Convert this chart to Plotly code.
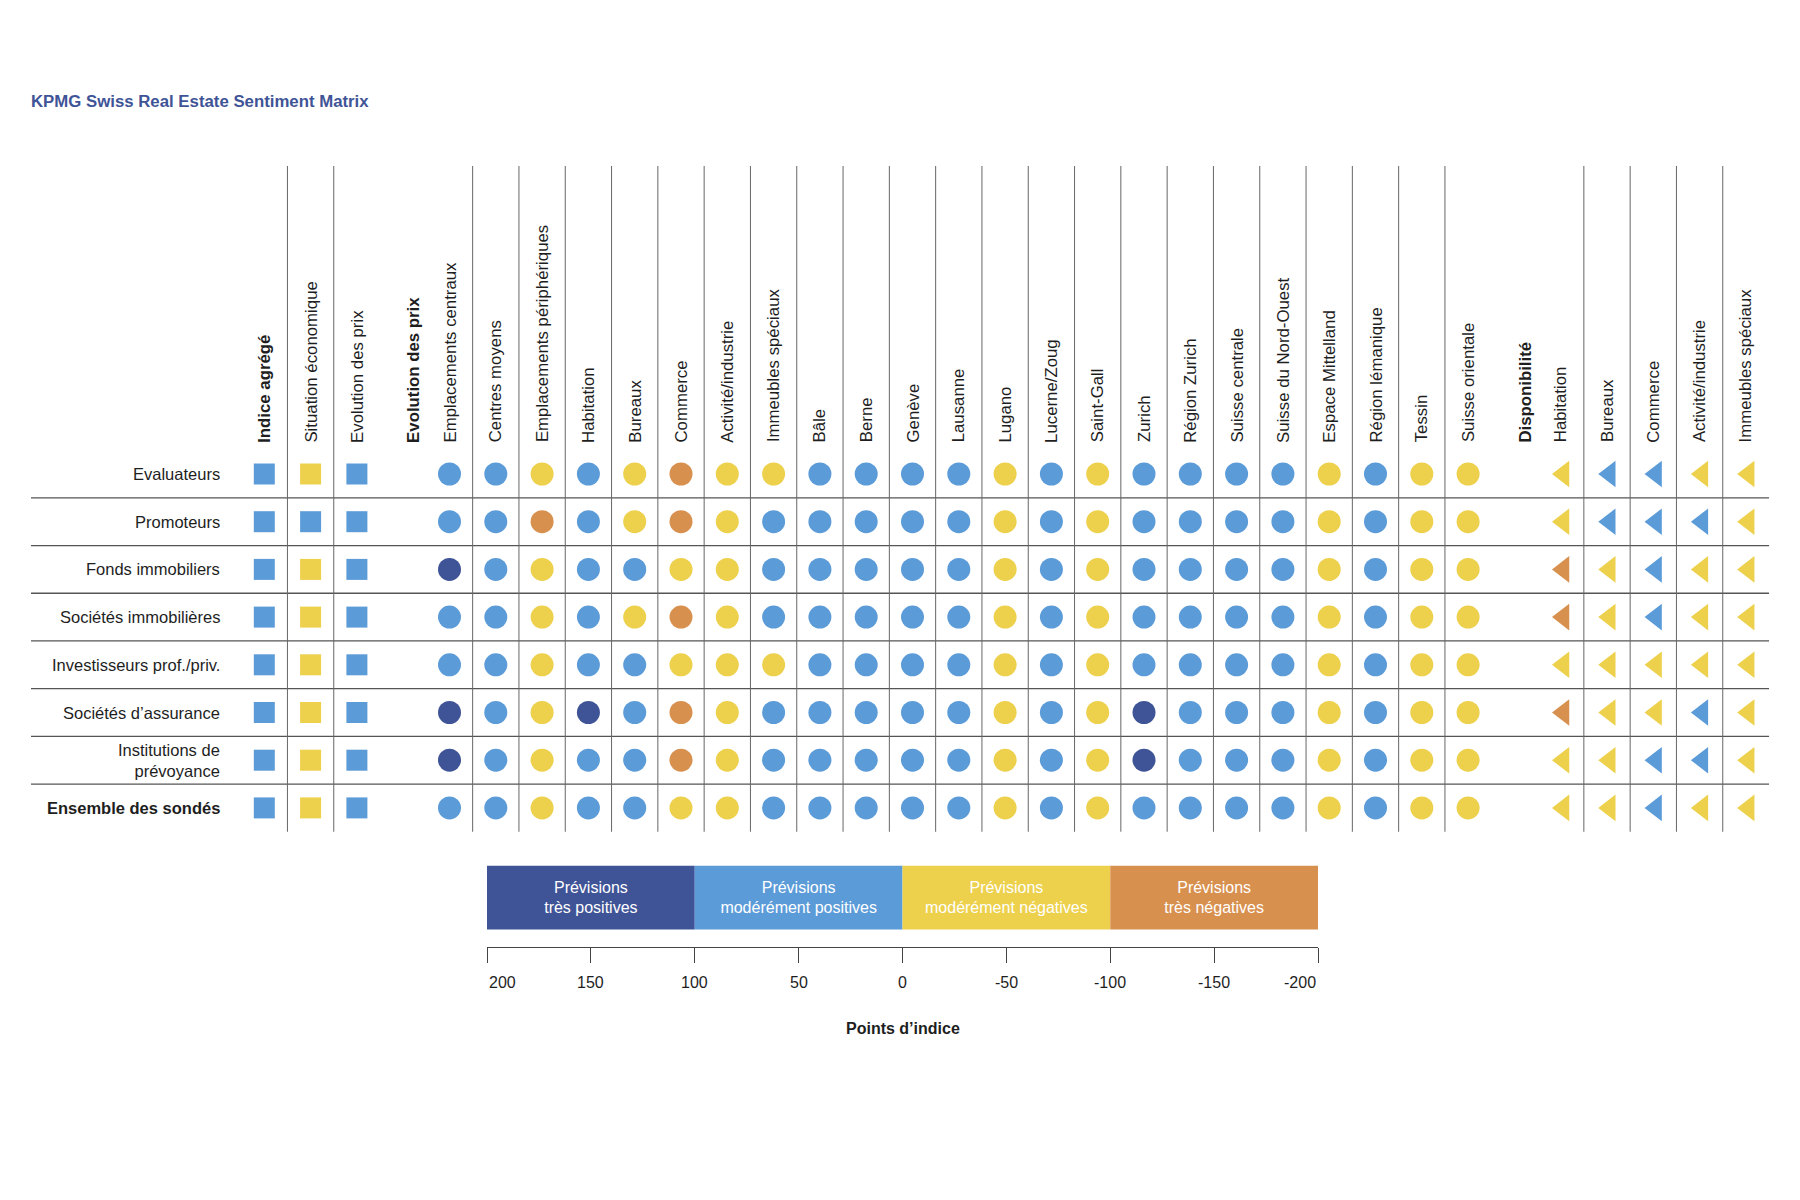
import plotly.graph_objects as go

# ---------------- data ----------------
TITLE = "KPMG Swiss Real Estate Sentiment Matrix"

respondents = [
    "Evaluateurs",
    "Promoteurs",
    "Fonds immobiliers",
    "Sociétés immobilières",
    "Investisseurs prof./priv.",
    "Sociétés d’assurance",
    "Institutions de<br>prévoyance",
    "<b>Ensemble des sondés</b>",
]

index_headers = ["<b>Indice agrégé</b>", "Situation économique", "Evolution des prix"]
price_group = "Evolution des prix"
price_headers = [
    "Emplacements centraux", "Centres moyens", "Emplacements périphériques",
    "Habitation", "Bureaux", "Commerce", "Activité/industrie", "Immeubles spéciaux",
    "Bâle", "Berne", "Genève", "Lausanne", "Lugano", "Lucerne/Zoug", "Saint-Gall",
    "Zurich", "Région Zurich", "Suisse centrale", "Suisse du Nord-Ouest",
    "Espace Mittelland", "Région lémanique", "Tessin", "Suisse orientale",
]
avail_group = "Disponibilité"
avail_headers = ["Habitation", "Bureaux", "Commerce", "Activité/industrie", "Immeubles spéciaux"]

# rating codes: P = très positives, p = modérément positives,
#               n = modérément négatives, N = très négatives
index_ratings = ["pnp", "ppp", "pnp", "pnp", "pnp", "pnp", "pnp", "pnp"]
price_ratings = [
    "ppnpnNnn" + "ppppnpnppppnpnn",
    "ppNpnNnp" + "ppppnpnppppnpnn",
    "Ppnppnnp" + "ppppnpnppppnpnn",
    "ppnpnNnp" + "ppppnpnppppnpnn",
    "ppnppnnn" + "ppppnpnppppnpnn",
    "PpnPpNnp" + "ppppnpnPpppnpnn",
    "PpnppNnp" + "ppppnpnPpppnpnn",
    "ppnppnnp" + "ppppnpnppppnpnn",
]
avail_ratings = ["nppnn", "npppn", "Nnpnn", "Nnpnn", "nnnnn", "Nnnpn", "nnppn", "nnpnn"]

rating_colors = {"P": "#3f5497", "p": "#5b9bd8", "n": "#edd04b", "N": "#d8904f"}

legend_labels = [
    "Prévisions<br>très positives",
    "Prévisions<br>modérément positives",
    "Prévisions<br>modérément négatives",
    "Prévisions<br>très négatives",
]
legend_codes = ["P", "p", "n", "N"]
legend_bounds = [200, 100, 0, -100, -200]
legend_ticks = [200, 150, 100, 50, 0, -50, -100, -150, -200]
legend_axis_title = "Points d’indice"

# ---------------- layout geometry (pixels) ----------------
W, H = 1800, 1200
X0, DX = 256.3, 46.3      # slot 0 centre and slot spacing
Y0, DY = 466.0, 47.7      # row 0 centre and row spacing
FONT = "Liberation Sans, Arial, Helvetica, sans-serif"
TXT = "#1e1e1e"


def sx(p):
    return (p - X0) / DX


def ry(p):
    return (p - Y0) / DY


index_slots = list(range(0, len(index_headers)))
price_group_slot = len(index_headers)
price_slots = [price_group_slot + 1 + i for i in range(len(price_headers))]
avail_group_slot = price_slots[-1] + 1
avail_slots = [avail_group_slot + 1 + i for i in range(len(avail_headers))]
last_slot = avail_slots[-1]

fig = go.Figure()


def add_group(slots, ratings, symbol, size, dx=0.0):
    xs, ys, cs = [], [], []
    for r, row in enumerate(ratings):
        for k, code in enumerate(row):
            xs.append(slots[k] + dx)
            ys.append(r)
            cs.append(rating_colors[code])
    fig.add_trace(go.Scatter(
        x=xs, y=ys, mode="markers",
        marker=dict(symbol=symbol, size=size, color=cs, line=dict(width=0)),
        hoverinfo="skip", showlegend=False, xaxis="x", yaxis="y",
    ))


add_group(index_slots, index_ratings, "square", 21)
add_group(price_slots, price_ratings, "circle", 23)
add_group(avail_slots, avail_ratings, "triangle-left", 23, dx=0.06)

# legend colour bar (horizontal bars on secondary axes)
bar_top_px, bar_bottom_px, axis_px = 857.5, 921.5, 938.5
dom_h = axis_px - bar_top_px
yb = (axis_px - bar_bottom_px) / dom_h
fig.add_trace(go.Bar(
    orientation="h",
    y=[(yb + 1) / 2] * len(legend_labels),
    x=[legend_bounds[i] - legend_bounds[i + 1] for i in range(len(legend_labels))],
    base=legend_bounds[1:],
    width=1 - yb,
    marker=dict(color=[rating_colors[c] for c in legend_codes], line=dict(width=0)),
    text=legend_labels,
    textposition="inside",
    insidetextanchor="middle",
    textangle=0,
    constraintext="none",
    textfont=dict(color="white", size=16, family=FONT),
    hoverinfo="skip", showlegend=False, xaxis="x2", yaxis="y2",
))

shapes = []
# horizontal separators between rows
for j in range(len(respondents) - 1):
    shapes.append(dict(type="line", xref="x", yref="y",
                       x0=sx(23), x1=last_slot + 0.5, y0=j + 0.5, y1=j + 0.5,
                       line=dict(color="#555555", width=1.3)))
# vertical separators
vlines = [index_slots[0] + 0.5, index_slots[1] + 0.5]
vlines += [s + 0.5 for s in price_slots[:-1]]
vlines += [s + 0.5 for s in avail_slots[:-1]]
for v in vlines:
    shapes.append(dict(type="line", xref="x", yref="y",
                       x0=v, x1=v, y0=ry(158), y1=len(respondents) - 0.5,
                       line=dict(color="#666666", width=1)))

annotations = []
# title
annotations.append(dict(xref="paper", yref="paper", x=21 / W, y=1 - 93 / H,
                        xanchor="left", yanchor="middle", showarrow=False,
                        text="<b>" + TITLE + "</b>",
                        font=dict(size=16.8, color="#3f5497", family=FONT)))
# column headers
head_y = ry(436.5)
hdr = []
for s, t in zip(index_slots, index_headers):
    hdr.append(dict(x=s, y=head_y, text=t))
hdr.append(dict(x=price_group_slot + 0.22, y=head_y, text="<b>" + price_group + "</b>"))
for s, t in zip(price_slots, price_headers):
    hdr.append(dict(x=s, y=head_y, text=t))
hdr.append(dict(x=avail_group_slot + 0.22, y=head_y, text="<b>" + avail_group + "</b>"))
for s, t in zip(avail_slots, avail_headers):
    hdr.append(dict(x=s, y=head_y, text=t))
for a in hdr:
    a.update(xref="x", yref="y", xanchor="center", yanchor="bottom", textangle=-90,
             showarrow=False, font=dict(size=16.8, color=TXT, family=FONT))
annotations += hdr
# row labels
for j, name in enumerate(respondents):
    annotations.append(dict(xref="x", yref="y", x=sx(214), y=j, text=name,
                            xanchor="right", yanchor="middle", align="right",
                            showarrow=False,
                            font=dict(size=16.5, color=TXT, family=FONT)))
# legend tick labels
for k, t in enumerate(legend_ticks):
    anchor = "left" if k == 0 else ("right" if k == len(legend_ticks) - 1 else "center")
    annotations.append(dict(xref="x2", yref="paper", x=t, y=1 - 974.5 / H,
                            text=str(t), xanchor=anchor, yanchor="middle",
                            showarrow=False, font=dict(size=16, color=TXT, family=FONT)))
annotations.append(dict(xref="x2", yref="paper", x=0, y=1 - 1020.5 / H,
                        text="<b>" + legend_axis_title + "</b>", xanchor="center",
                        yanchor="middle", showarrow=False,
                        font=dict(size=16, color=TXT, family=FONT)))

fig.update_layout(
    width=W, height=H, autosize=False,
    margin=dict(l=0, r=0, t=0, b=0),
    paper_bgcolor="white", plot_bgcolor="rgba(0,0,0,0)",
    showlegend=False, hovermode=False,
    font=dict(family=FONT, color=TXT),
    xaxis=dict(domain=[0, 1], range=[sx(0), sx(W)], visible=False, fixedrange=True),
    yaxis=dict(domain=[0, 1], range=[ry(H), ry(0)], visible=False, fixedrange=True),
    xaxis2=dict(domain=[479 / W, 1310 / W], range=[legend_bounds[0], legend_bounds[-1]],
                anchor="y2", showline=True, linecolor="#444444", linewidth=1,
                ticks="outside", ticklen=15, tickcolor="#444444", tickwidth=1,
                tickvals=legend_ticks, showticklabels=False, showgrid=False,
                zeroline=False, fixedrange=True),
    yaxis2=dict(domain=[1 - axis_px / H, 1 - bar_top_px / H], range=[0, 1],
                anchor="x2", visible=False, fixedrange=True),
    shapes=shapes,
    annotations=annotations,
)

fig.write_html("out.html")
